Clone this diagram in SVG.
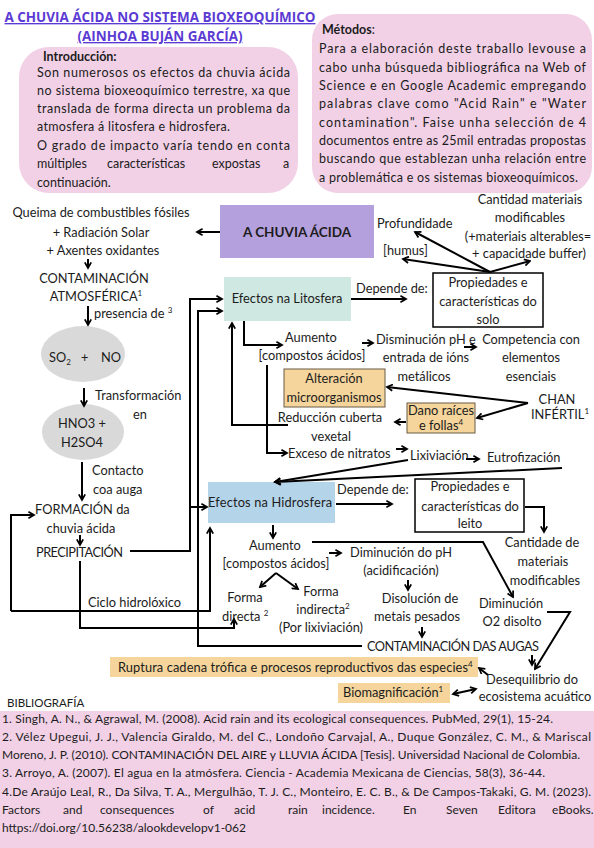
<svg xmlns="http://www.w3.org/2000/svg" width="594" height="848" viewBox="0 0 594 848">
<defs>
<style>
.t{font-family:Lato,"Liberation Sans",sans-serif;font-size:12.8px;fill:#1c1c1c}
.p{font-size:12.5px}
.bib{font-size:12px}
.c{text-anchor:middle}
.b{font-weight:bold}
.ttl{font-family:"Open Sans",Lato,sans-serif;font-weight:bold;font-size:13.5px;fill:#5b3bd3;text-decoration:underline;text-anchor:middle}
.ln{fill:none;stroke:#000;stroke-width:2}
.a{marker-end:url(#ah)}
.pink{fill:#f2d1e6}
.org{fill:#f5d59b}
.sup{font-size:8px}
</style>
<marker id="ah" viewBox="0 0 10 10" refX="8" refY="5" markerWidth="4" markerHeight="4" orient="auto-start-reverse" markerUnits="strokeWidth">
<path d="M1,1 L8,5 L1,9" fill="none" stroke="#000" stroke-width="2.2"/>
</marker>
</defs>
<rect width="594" height="848" fill="#fff"/>

<g id="title">
<text x="160" y="22" class="ttl" textLength="311" lengthAdjust="spacingAndGlyphs">A CHUVIA ÁCIDA NO SISTEMA BIOXEOQUÍMICO</text>
<text x="160" y="41" class="ttl" textLength="165" lengthAdjust="spacingAndGlyphs">(AINHOA BUJÁN GARCÍA)</text>
</g>

<g id="intro">
<rect x="19" y="47" width="279" height="146" rx="30" class="pink"/>
<text x="43" y="61" class="t p b">Introducción:</text>
<text x="37" y="77" class="t p" textLength="253">Son numerosos os efectos da chuvia ácida</text>
<text x="37" y="95" class="t p" textLength="253">no sistema bioxeoquímico terrestre, xa que</text>
<text x="37" y="113" class="t p" textLength="253">translada de forma directa un problema da</text>
<text x="37" y="131" class="t p" textLength="193">atmosfera á litosfera e hidrosfera.</text>
<text x="37" y="150" class="t p" textLength="253">O grado de impacto varía tendo en conta</text>
<text y="168" class="t p"><tspan x="37">múltiples</tspan><tspan x="107">características</tspan><tspan x="212">expostas</tspan><tspan x="283">a</tspan></text>
<text x="37" y="187" class="t p">continuación.</text>
</g>

<g id="metodos">
<rect x="312" y="14" width="280" height="179" rx="26" class="pink"/>
<text x="322" y="34" class="t p"><tspan class="b">Métodos</tspan>:</text>
<text x="319" y="53" class="t p" textLength="267">Para a elaboración deste traballo levouse a</text>
<text x="319" y="72" class="t p" textLength="267">cabo unha búsqueda bibliográfica na Web of</text>
<text x="319" y="90" class="t p" textLength="267">Science e en Google Academic empregando</text>
<text x="319" y="108" class="t p" textLength="267">palabras clave como "Acid Rain" e "Water</text>
<text x="319" y="127" class="t p" textLength="267">contamination". Faise unha selección de 4</text>
<text x="319" y="145" class="t p" textLength="267">documentos entre as 25mil entradas propostas</text>
<text x="319" y="163" class="t p" textLength="267">buscando que establezan unha relación entre</text>
<text x="319" y="182" class="t p" textLength="259">a problemática e os sistemas bioxeoquímicos.</text>
</g>

<g id="fuentes">
<text x="101" y="217" class="t c">Queima de combustibles fósiles</text>
<text x="101" y="237" class="t c">+ Radiación Solar</text>
<text x="103" y="255" class="t c">+ Axentes oxidantes</text>
</g>
<g id="contaminacion-atmosferica">
<text x="94" y="283" class="t c">CONTAMINACIÓN</text>
<text x="96" y="301" class="t c">ATMOSFÉRICA<tspan class="sup" dy="-5">1</tspan></text>
<text x="94" y="318" class="t">presencia de <tspan class="sup" dy="-5">3</tspan></text>
</g>
<g id="so2-no">
<ellipse cx="83" cy="354" rx="42" ry="28" fill="#d9d9d9"/>
<text y="362" class="t"><tspan x="49">SO</tspan><tspan class="sup" dy="3">2</tspan><tspan x="81" dy="-3">+</tspan><tspan x="101">NO</tspan></text>
<text x="95" y="400" class="t">Transformación</text>
<text x="140" y="419" class="t c">en</text>
</g>
<g id="hno3-h2so4">
<ellipse cx="83" cy="432" rx="41" ry="28" fill="#d9d9d9"/>
<text x="82" y="428" class="t c">HNO3 +</text>
<text x="82" y="447" class="t c">H2SO4</text>
<text x="92" y="475" class="t">Contacto</text>
<text x="93" y="494" class="t">coa auga</text>
</g>
<g id="formacion">
<text x="35" y="514" class="t">FORMACIÓN da</text>
<text x="81" y="533" class="t c">chuvia ácida</text>
</g>
<g id="precipitacion">
<text x="36" y="557" class="t" textLength="87">PRECIPITACIÓN</text>
<text x="88" y="607" class="t">Ciclo hidrolóxico</text>
</g>

<g id="chuvia-acida">
<rect x="220" y="205" width="154" height="53" fill="#b5a0de"/>
<text x="297" y="237" class="t c b" style="font-size:13.5px">A CHUVIA ÁCIDA</text>
</g>

<g id="litosfera">
<rect x="224" y="277" width="127" height="44" fill="#cfe8e1"/>
<text x="287" y="303" class="t c">Efectos na Litosfera</text>
<text x="356" y="293" class="t">Depende de:</text>
</g>
<g id="solo">
<rect x="433" y="273" width="110" height="54" fill="#fff" stroke="#000" stroke-width="1.5"/>
<text x="488" y="287" class="t c">Propiedades e</text>
<text x="488" y="306" class="t c">características do</text>
<text x="488" y="324" class="t c">solo</text>
</g>
<g id="solo-props">
<text x="377" y="228" class="t">Profundidade</text>
<text x="383" y="255" class="t">[humus]</text>
<text x="530" y="204" class="t c">Cantidad materiais</text>
<text x="530" y="222" class="t c">modificables</text>
<text x="528" y="241" class="t c">(+materiais alterables=</text>
<text x="529" y="258" class="t c">+ capacidade buffer)</text>
</g>
<g id="aumento-lito">
<text x="311" y="342" class="t c">Aumento</text>
<text x="312" y="360" class="t c">[compostos ácidos]</text>
</g>
<g id="disminucion-ph">
<text x="376" y="344" class="t">Disminución pH e</text>
<text x="426" y="362" class="t c">entrada de ións</text>
<text x="424" y="381" class="t c">metálicos</text>
</g>
<g id="competencia">
<text x="531" y="344" class="t c">Competencia con</text>
<text x="531" y="362" class="t c">elementos</text>
<text x="531" y="381" class="t c">esenciais</text>
</g>
<g id="alteracion">
<rect x="284" y="369" width="101" height="38" class="org" stroke="#6b5a44" stroke-width="1"/>
<text x="334" y="383" class="t c">Alteración</text>
<text x="334" y="402" class="t c">microorganismos</text>
</g>
<g id="dano">
<rect x="407" y="403" width="68" height="30" class="org" stroke="#6b5a44" stroke-width="1"/>
<text x="441" y="415" class="t c">Dano raíces</text>
<text x="441" y="430" class="t c">e follas<tspan class="sup" dy="-5">4</tspan></text>
</g>
<g id="chan">
<text x="557" y="404" class="t c">CHAN</text>
<text x="560" y="419" class="t c">INFÉRTIL<tspan class="sup" dy="-5">1</tspan></text>
</g>
<g id="reduccion">
<text x="330" y="422" class="t c">Reducción cuberta</text>
<text x="331" y="441" class="t c">vexetal</text>
</g>
<g id="nitratos">
<text x="288" y="458" class="t">Exceso de nitratos</text>
<text x="410" y="460" class="t">Lixiviación</text>
<text x="487" y="462" class="t">Eutrofización</text>
</g>

<g id="hidrosfera">
<rect x="208" y="482" width="127" height="41" fill="#b4d4ea"/>
<text x="208" y="507" class="t" textLength="124">Efectos na Hidrosfera</text>
<text x="337" y="494" class="t">Depende de:</text>
</g>
<g id="leito">
<rect x="415" y="479" width="109" height="53" fill="#fff" stroke="#000" stroke-width="1.5"/>
<text x="470" y="491" class="t c">Propiedades e</text>
<text x="470" y="511" class="t c">características do</text>
<text x="470" y="528" class="t c">leito</text>
</g>
<g id="cantidade">
<text x="542" y="547" class="t c">Cantidade de</text>
<text x="543" y="566" class="t c">materiais</text>
<text x="545" y="585" class="t c">modificables</text>
</g>
<g id="aumento-hidro">
<text x="275" y="550" class="t c">Aumento</text>
<text x="276" y="568" class="t c">[compostos ácidos]</text>
</g>
<g id="forma-directa">
<text x="245" y="602" class="t c">Forma</text>
<text x="222" y="621" class="t">directa <tspan class="sup" dy="-5">2</tspan></text>
</g>
<g id="forma-indirecta">
<text x="321" y="596" class="t c">Forma</text>
<text x="323" y="614" class="t c">indirecta<tspan class="sup" dy="-5">2</tspan></text>
<text x="321" y="632" class="t c">(Por lixiviación)</text>
</g>
<g id="diminucion-ph-hidro">
<text x="401" y="557" class="t c">Diminución do pH</text>
<text x="401" y="575" class="t c">(acidificación)</text>
</g>
<g id="disolucion">
<text x="420" y="603" class="t c">Disolución de</text>
<text x="417" y="621" class="t c">metais pesados</text>
</g>
<g id="o2">
<text x="511" y="608" class="t c">Diminución</text>
<text x="512" y="626" class="t c">O2 disolto</text>
</g>
<g id="contaminacion-augas">
<text x="367" y="651" class="t" textLength="172">CONTAMINACIÓN DAS AUGAS</text>
</g>
<g id="desequilibrio">
<text x="532" y="684" class="t c">Desequilibrio do</text>
<text x="535" y="701" class="t c">ecosistema acuático</text>
</g>
<g id="ruptura">
<rect x="110" y="657" width="368" height="20" class="org"/>
<text x="118" y="672" class="t"><tspan textLength="350">Ruptura cadena trófica e procesos reproductivos das especies</tspan><tspan class="sup" dy="-5">4</tspan></text>
</g>
<g id="biomagnificacion">
<rect x="338" y="683" width="112" height="20" class="org"/>
<text x="343" y="697" class="t">Biomagnificación<tspan class="sup" dy="-5">1</tspan></text>
</g>

<g id="bibliografia">
<text x="7" y="707" class="t" style="font-size:11.5px">BIBLIOGRAFÍA</text>
<rect x="0" y="711" width="594" height="137" class="pink"/>
<text x="2" y="723" class="t bib" textLength="551">1. Singh, A. N., &amp; Agrawal, M. (2008). Acid rain and its ecological consequences. PubMed, 29(1), 15-24.</text>
<text x="2" y="741" class="t bib" textLength="589">2. Vélez Upegui, J. J., Valencia Giraldo, M. del C., Londoño Carvajal, A., Duque González, C. M., &amp; Mariscal</text>
<text x="2" y="759" class="t bib" textLength="578">Moreno, J. P. (2010). CONTAMINACIÓN DEL AIRE y LLUVIA ÁCIDA [Tesis]. Universidad Nacional de Colombia.</text>
<text x="2" y="777" class="t bib" textLength="543">3. Arroyo, A. (2007). El agua en la atmósfera. Ciencia - Academia Mexicana de Ciencias, 58(3), 36-44.</text>
<text x="2" y="796" class="t bib" textLength="589">4.De Araújo Leal, R., Da Silva, T. A., Mergulhão, T. J. C., Monteiro, E. C. B., &amp; De Campos-Takaki, G. M. (2023).</text>
<text y="814" class="t bib"><tspan x="2">Factors</tspan><tspan x="63">and</tspan><tspan x="100">consequences</tspan><tspan x="203">of</tspan><tspan x="234">acid</tspan><tspan x="288">rain</tspan><tspan x="322">incidence.</tspan><tspan x="403">En</tspan><tspan x="446">Seven</tspan><tspan x="498">Editora</tspan><tspan x="552">eBooks.</tspan></text>
<text x="2" y="832" class="t bib">https://doi.org/10.56238/alookdevelopv1-062</text>
</g>

<g id="connectors">
<path class="ln a" d="M220,232 L197,232"/>
<path class="ln a" d="M88,259 L88,268"/>
<path class="ln a" d="M88,306 L88,325"/>
<path class="ln a" d="M84,388 L84,406"/>
<path class="ln a" d="M82,462 L82,500"/>
<path class="ln a" d="M80,535 L80,545"/>
<path class="ln a" d="M11,611 L210,611 L210,528"/>
<path class="ln a" d="M11,611 L11,515 L34,515"/>
<path class="ln a" d="M130,551 L190,551 L190,299 L222,299"/>
<path class="ln a" d="M190,507 L207,507"/>
<path class="ln a" d="M362,646 L198,646 L198,311 L222,311"/>
<path class="ln a" d="M80,561 L80,628 L234,628 L234,619"/>
<path class="ln a" d="M351,299 L406,299"/>
<path class="ln a" d="M490,272 L415,232"/>
<path class="ln a" d="M490,272 L403,259"/>
<path class="ln a" d="M490,272 L530,261"/>
<path class="ln a" d="M244,321 L244,345 L282,345"/>
<path class="ln a" d="M362,343 L373,343"/>
<path class="ln a" d="M464,347 L476,347"/>
<path class="ln a" d="M528,403 L387,387"/>
<path class="ln a" d="M528,403 L477,418"/>
<path class="ln a" d="M406,422 L395,422"/>
<path class="ln a" d="M288,425 L232,425 L232,323"/>
<path class="ln a" d="M267,365 L267,453 L287,453"/>
<path class="ln a" d="M396,449 L407,449"/>
<path class="ln a" d="M466,459 L479,459"/>
<path class="ln a" d="M408,460 L275,482"/>
<path class="ln a" d="M562,468 L275,482"/>
<path class="ln a" d="M336,504 L392,504"/>
<path class="ln a" d="M525,507 L544,507 L544,532"/>
<path class="ln a" d="M273,525 L273,538"/>
<path class="ln a" d="M312,542 L483,542 L513,597"/>
<path class="ln a" d="M329,553 L341,553"/>
<path class="ln a" d="M276,573 L260,587"/>
<path class="ln a" d="M276,573 L298,589"/>
<path class="ln a" d="M408,580 L408,590"/>
<path class="ln a" d="M422,627 L422,637"/>
<path class="ln a" d="M547,612 L570,612 L535,669"/>
<path class="ln a" d="M532,655 L532,665"/>
<path class="ln a" d="M488,675 L479,668"/>
<path class="ln a" d="M453,694 L476,689" style="marker-start:url(#ah)"/>
</g>
</svg>
